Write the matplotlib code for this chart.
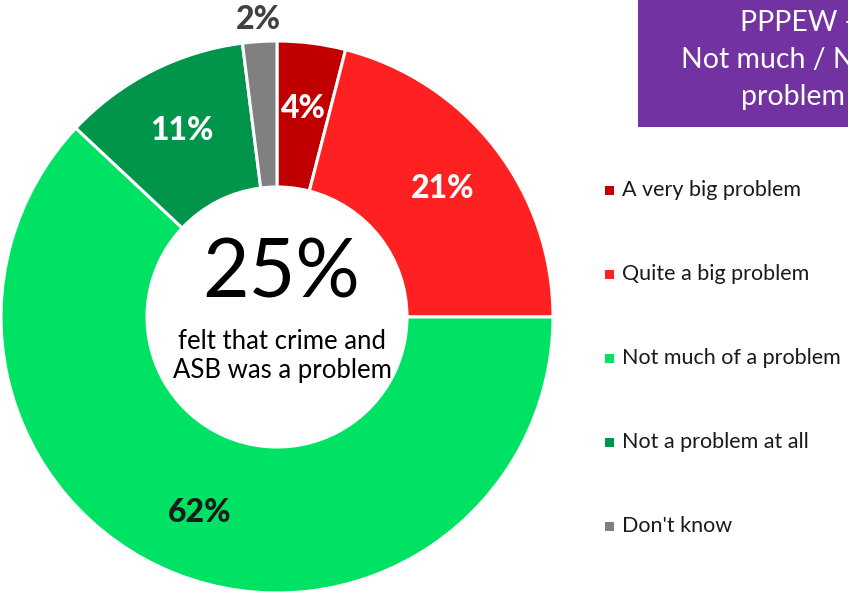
import matplotlib.pyplot as plt
from matplotlib.patches import Rectangle
import numpy as np

plt.rcParams['font.family'] = ['Lato', 'DejaVu Sans']

# survey responses, share of respondents (%)
categories = ["A very big problem", "Quite a big problem", "Not much of a problem",
              "Not a problem at all", "Don't know"]
shares = [4, 21, 62, 11, 2]
slice_colors = ["#C00000", "#FF2121", "#00E264", "#00954A", "#808080"]
label_colors = ["white", "white", "#1A1A1A", "white", "#404040"]
headline = "25%"
headline_note = "felt that crime and\nASB was a problem"
box_lines = ["PPPEW -", "Not much / N", "problem"]

W, H = 848, 593
fig = plt.figure(figsize=(W / 100, H / 100), dpi=100, facecolor="white")
ax = fig.add_axes([0, 0, 1, 1])

cx, cy, R, ring = 277, H - 317, 276, 146
wedges, _ = ax.pie(shares, radius=R, center=(cx, cy), startangle=90,
                   counterclock=False, colors=slice_colors,
                   wedgeprops=dict(width=ring, edgecolor="white", linewidth=2.2))

# value labels inside the ring, the tiny slice gets its label outside
for w, val, col in zip(wedges, shares, label_colors):
    mid = np.deg2rad((w.theta1 + w.theta2) / 2)
    r = R * 1.08 if val < 3 else R * 0.76
    ax.text(cx + r * np.cos(mid), cy + r * np.sin(mid), f"{val}%",
            ha="center", va="center", fontsize=23, fontweight="black", color=col)

ax.text(cx + 4, H - 275, headline, ha="center", va="center", fontsize=58, color="black")
ax.text(cx + 5, H - 356, headline_note, ha="center", va="center", fontsize=18.5,
        color="black", linespacing=1.2)

# title box in the corner
ax.add_patch(Rectangle((638, H - 127), 260, 127, facecolor="#7232A2", edgecolor="none"))
for i, (txt, x0) in enumerate(zip(box_lines, [740, 681, 741])):
    ax.text(x0, H - 31 - 37 * i, txt, ha="left", va="baseline", fontsize=20.5,
            color="white")

# legend
for i, (cat, col) in enumerate(zip(categories, slice_colors)):
    y = H - (190 + 84 * i)
    ax.add_patch(Rectangle((605, y - 4.5), 9, 9, facecolor=col, edgecolor="none"))
    ax.text(622, y, cat, ha="left", va="center", fontsize=15.5, color="#1A1A1A")

ax.set_xlim(0, W)
ax.set_ylim(0, H)
ax.set_aspect("auto")
ax.axis("off")

fig.savefig("out.png", dpi=100, facecolor="white")
